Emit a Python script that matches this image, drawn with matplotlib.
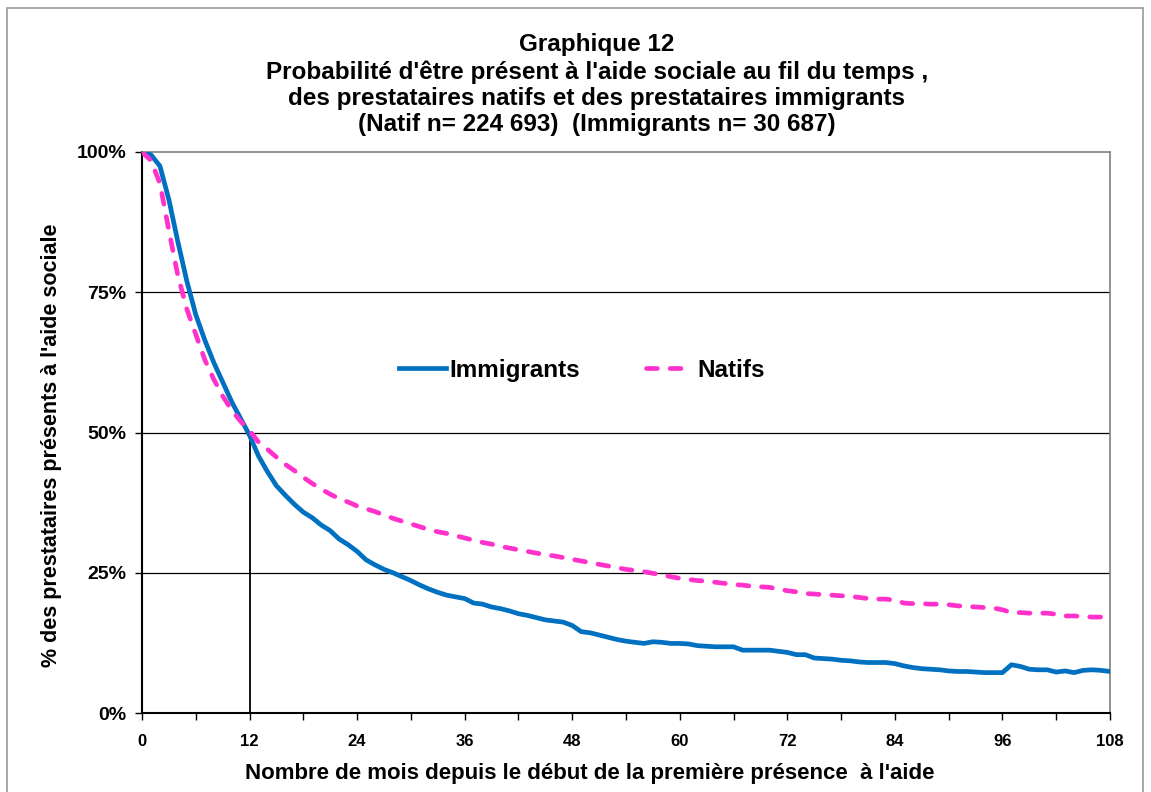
import numpy as np
import matplotlib
matplotlib.use("Agg")
import matplotlib.pyplot as plt
from matplotlib.patches import Rectangle
from matplotlib.ticker import MultipleLocator, FuncFormatter

plt.rcParams['font.family'] = ['Liberation Sans', 'DejaVu Sans']
plt.rcParams['font.weight'] = 'bold'

months = np.arange(0, 109)

immigrants = [
    100, 99.5, 97.5, 91.5, 84, 77, 71, 66.5, 62.5, 59, 55.5, 52.5,
    49.5, 45.8, 43, 40.5, 38.8, 37.2, 35.8, 34.8, 33.5, 32.5, 31, 30,
    28.8, 27.3, 26.4, 25.6, 25, 24.3, 23.6, 22.8, 22.1, 21.5, 21.0, 20.7,
    20.4, 19.6, 19.4, 18.9, 18.6, 18.2, 17.7, 17.4, 17.0, 16.6, 16.4, 16.2,
    15.6, 14.5, 14.3, 13.9, 13.5, 13.1, 12.8, 12.6, 12.4, 12.7, 12.6, 12.4,
    12.4, 12.3, 12.0, 11.9, 11.8, 11.8, 11.8, 11.2, 11.2, 11.2, 11.2, 11.0,
    10.8, 10.4, 10.4, 9.8, 9.7, 9.6, 9.4, 9.3, 9.1, 9.0, 9.0, 9.0,
    8.8, 8.4, 8.1, 7.9, 7.8, 7.7, 7.5, 7.4, 7.4, 7.3, 7.2, 7.2,
    7.2, 8.6, 8.3, 7.8, 7.7, 7.7, 7.3, 7.5, 7.2, 7.6, 7.7, 7.6,
    7.4,
]

natifs = [
    100, 98.5, 94.4, 86, 78, 72, 67.5, 63, 59.5, 56.5, 54, 52,
    50.3, 48.3, 47, 45.6, 44.3, 43.2, 42, 40.9, 39.9, 39, 38.2, 37.6,
    36.9, 36.4, 35.9, 35.3, 34.7, 34.2, 33.7, 33.2, 32.7, 32.3, 32, 31.6,
    31.2, 30.8, 30.4, 30.1, 29.7, 29.4, 29.1, 28.8, 28.5, 28.2, 28.0, 27.7,
    27.4, 27.1, 26.8, 26.5, 26.2, 25.9, 25.6, 25.4, 25.2, 24.9, 24.6, 24.3,
    24.0, 23.8, 23.6, 23.5, 23.3, 23.1, 22.9, 22.8, 22.6, 22.5, 22.4, 22.1,
    21.8, 21.6, 21.3, 21.2, 21.1, 21.0, 20.9, 20.8, 20.6, 20.4, 20.3, 20.3,
    20.1, 19.6, 19.5, 19.5, 19.4, 19.4, 19.3, 19.1, 19.0, 18.9, 18.8, 18.7,
    18.4, 17.9, 17.9, 17.8, 17.8, 17.8, 17.6, 17.3, 17.3, 17.2, 17.1, 17.1,
    17.1,
]

title_lines = [
    "Graphique 12",
    "Probabilité d'être présent à l'aide sociale au fil du temps ,",
    "des prestataires natifs et des prestataires immigrants",
    "(Natif n= 224 693)  (Immigrants n= 30 687)",
]

W, H = 1151, 792
fig = plt.figure(figsize=(W / 100, H / 100), dpi=100)
ax = fig.add_axes([142 / W, 1 - 713 / H, 968 / W, 561 / H])

# outer chart border
fig.patches.append(Rectangle((7 / W, -0.01), 1136 / W, 1 - 8 / H + 0.01,
                             transform=fig.transFigure, fill=False,
                             edgecolor="#999999", linewidth=1.2))

for y in [25, 50, 75]:
    ax.axhline(y, color="black", linewidth=0.9, zorder=1)
ax.plot([12, 12], [0, 50], color="black", linewidth=1.3, zorder=2)

ax.plot(months, immigrants, color="#0070C0", linewidth=3.4, label="Immigrants", zorder=3)
ax.plot(months, natifs, color="#FF33CC", linewidth=3.4, dashes=(2.3, 2.7),
        dash_capstyle="round", label="Natifs", zorder=4)

ax.set_xlim(0, 108)
ax.set_ylim(0, 100)
ax.xaxis.set_major_locator(MultipleLocator(12))
ax.xaxis.set_minor_locator(MultipleLocator(6))
ax.yaxis.set_major_locator(MultipleLocator(25))
ax.yaxis.set_major_formatter(FuncFormatter(lambda v, p: f"{v:.0f}%"))
ax.tick_params(axis="x", which="both", direction="out", length=5, width=1, labelsize=12, pad=10)
ax.tick_params(axis="y", direction="out", length=5, width=1, labelsize=14, pad=6)

for s in ["left", "bottom"]:
    ax.spines[s].set_color("black")
    ax.spines[s].set_linewidth(1.5)
for s in ["top", "right"]:
    ax.spines[s].set_color("#808080")
    ax.spines[s].set_linewidth(1.2)

fig.text(590 / W, 1 - 773 / H,
         "Nombre de mois depuis le début de la première présence  à l'aide",
         ha="center", va="center", fontsize=16, fontweight="bold")
fig.text(52 / W, 1 - 445 / H, "% des prestataires présents à l'aide sociale",
         ha="center", va="center", rotation=90, fontsize=15.5, fontweight="bold")

for line, yc in zip(title_lines, [45, 72, 98, 124]):
    fig.text(597 / W, 1 - yc / H, line, ha="center", va="center",
             fontsize=17.5, fontweight="bold")

leg = ax.legend(loc="center", bbox_to_anchor=(0.454, 0.611), ncol=2, frameon=False,
                fontsize=17.5, handlelength=1.95, columnspacing=2.7, handletextpad=0.15)

fig.savefig("out.png", dpi=100)
